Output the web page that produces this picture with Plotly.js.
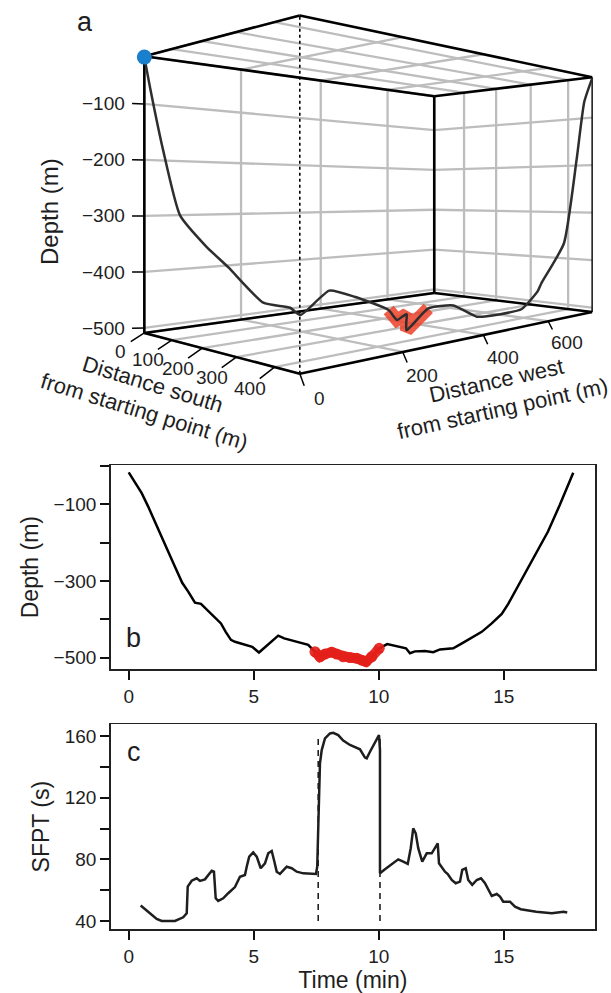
<!DOCTYPE html>
<html><head><meta charset="utf-8">
<script src="https://cdn.plot.ly/plotly-3.0.1.min.js"></script>
<style>
html,body{margin:0;padding:0;overflow:hidden;background:#fff;width:611px;height:993px}
#chart{position:absolute;left:0;top:0;width:611px;height:993px}
</style></head>
<body><div id="chart"></div>
<script>
// ---------- Panel b: depth vs time ----------
const depthTime = [0,0.52,0.78,1.12,1.52,1.85,2.14,2.38,2.65,2.89,3.25,3.69,3.88,4.09,4.25,4.58,4.94,5.21,5.58,5.98,6.22,6.65,7.05,7.18,7.45,7.65,7.85,8.12,8.32,8.58,8.85,9.12,9.32,9.49,9.72,10.02,10.34,10.72,11.09,11.25,11.45,11.85,12.18,12.45,12.98,13.38,13.78,14.12,14.52,14.92,15.18,15.45,16.14,16.77,17.24,17.78];
const depthValues = [-16.5,-71,-106,-154,-215,-263,-305,-328,-357,-360,-383,-411,-433,-454,-459,-465,-472,-487,-466,-443,-450,-457,-465,-467,-485,-498,-491,-486,-491,-498,-500,-502,-507,-511,-498,-476,-465,-470,-476,-489,-484,-483,-486,-479,-476,-461,-447,-433,-411,-386,-360,-328,-245,-171,-102,-17.5];
const patchWindow = [7.45, 10.02];   // highlighted bottom phase (min)

// ---------- Panel c: SFPT vs time ----------
const sfptTime = [0.48,0.78,1.12,1.32,1.85,2.18,2.32,2.36,2.52,2.72,2.85,3.05,3.18,3.32,3.41,3.48,3.58,3.78,3.98,4.25,4.45,4.65,4.72,4.82,4.98,5.12,5.28,5.45,5.58,5.72,5.81,5.92,6.05,6.32,6.52,6.72,6.98,7.25,7.49,7.54,7.61,7.65,7.72,7.85,8.05,8.18,8.38,8.58,8.85,9.05,9.25,9.45,9.52,9.65,9.85,10.01,10.05,10.05,10.25,10.52,10.78,10.98,11.16,11.28,11.38,11.48,11.58,11.74,11.92,12.12,12.28,12.36,12.41,12.54,12.65,12.76,12.92,13.08,13.25,13.34,13.48,13.58,13.74,13.92,14.09,14.25,14.41,14.52,14.72,14.85,14.98,15.25,15.45,15.68,16.3,16.92,17.39,17.54];
const sfptValues = [50,46,41.3,40,40,42.4,45,62.3,66.1,67.7,66,67,69.8,72.6,72,54.7,53,54.7,58,62,68.7,69.8,75.2,81.7,84.5,81.7,74.2,77.4,83.9,85.4,79.6,72,70.5,75.2,74.2,72,70.9,70.5,70.5,75.2,116.3,142.3,150.9,158.5,161.7,162.1,160.6,157,154.2,153,151.4,146,145.5,149.8,156.3,160.6,151,70.9,73.5,77,80,78.5,77,87.2,100.1,96.9,87.2,78.5,83.9,83.9,88.6,90.4,77.4,74.2,72,70.5,66.6,64.5,65.5,73.1,74.2,66.6,63.4,66.6,67.7,64.5,60.1,56.2,57.5,55.8,52.5,52.5,49.3,47.6,46,45,46,45.5];
const phaseBounds = [7.58, 10.05];
const phaseBoundSpan = [40, 160];

// ---------- Panel a: 3-D track ----------
const track3dTime  = [0,0.52,1.3,2.1,2.89,3.5,4.25,4.94,5.21,5.98,6.65,7.45,7.65,8.12,8.85,9.49,10.02,10.72,11.25,12.0,12.9,13.8,14.12,15.18,16.6,17.45,17.78];
const track3dSouth = [0,0,0,0,5,60,133,148,154,184,205,240,280,297,308,320,324,362,402,440,455,460,460,460,460,460,460];
const track3dWest  = [0,11,36,69,120,135,162,211,230,275,320,377,361,370,358,347,401,430,451,470,520,565,577,655,702,731,762];
const track3dDepth = [-16.5,-71,-182,-300,-360,-398,-459,-472,-487,-443,-457,-485,-498,-486,-500,-511,-476,-470,-489,-483,-477,-447,-433,-360,-190,-70,-17.5];

const southTicks = [0,100,200,300,400];
const westTicks  = [0,200,400,600];
const depthTicks3d = [-500,-400,-300,-200,-100];
const southRange = [0,460], westRange = [0,762], depthRange3d = [-509,-15];

const FONT = 'Liberation Sans, Arial, Helvetica, sans-serif';
const INK = '#1e1e1e';
const minus = v => (v < 0 ? '\u2212' + Math.abs(v) : String(v));

// ---------- perspective camera for panel a (screen px) ----------
const CAM = {hx:0.1483, hy:0.2632, hz:0.166, th:45.16*Math.PI/180, f:764.9, cx:386.6, cy:194.6};
function proj(s, w, d){
  const X = -CAM.hx + 2*CAM.hx*(s - southRange[0])/(southRange[1]-southRange[0]);
  const Y = -CAM.hy + 2*CAM.hy*(w - westRange[0])/(westRange[1]-westRange[0]);
  const Z = -CAM.hz + 2*CAM.hz*(d - depthRange3d[0])/(depthRange3d[1]-depthRange3d[0]);
  const c = Math.cos(CAM.th), sn = Math.sin(CAM.th);
  const dist = 1 - (X*c - Y*sn);
  const lat = X*sn + Y*c;
  return [CAM.cx + CAM.f*lat/dist, CAM.cy - CAM.f*Z/dist];
}
function segs(list){
  const x=[],y=[];
  list.forEach(([a,b])=>{ const p=proj(...a), q=proj(...b); x.push(p[0],q[0],null); y.push(p[1],q[1],null); });
  return {x,y};
}
const S0=southRange[0],S1=southRange[1],W0=westRange[0],W1=westRange[1],Z0=depthRange3d[0],Z1=depthRange3d[1];

const traces = [];
const on3 = {xaxis:'x3', yaxis:'y3', hoverinfo:'skip', showlegend:false, type:'scatter', mode:'lines'};

// grid on the back walls, floor and top
(function(){
  const L=[];
  westTicks.forEach(w=>{ L.push([[S0,w,Z0],[S0,w,Z1]]); });
  depthTicks3d.forEach(d=>{ L.push([[S0,W0,d],[S0,W1,d]]); L.push([[S0,W1,d],[S1,W1,d]]); });
  southTicks.forEach(s=>{ L.push([[s,W1,Z0],[s,W1,Z1]]); });
  [Z0,Z1].forEach(z=>{
    southTicks.forEach(s=>{ L.push([[s,W0,z],[s,W1,z]]); });
    westTicks.forEach(w=>{ L.push([[S0,w,z],[S1,w,z]]); });
  });
  traces.push(Object.assign({}, on3, segs(L), {line:{color:'#bdbdbd',width:2.3}}));
})();
// box edges
(function(){
  const L=[];
  [Z0,Z1].forEach(z=>{ L.push([[S0,W0,z],[S1,W0,z]],[[S1,W0,z],[S1,W1,z]],[[S1,W1,z],[S0,W1,z]],[[S0,W1,z],[S0,W0,z]]); });
  L.push([[S0,W0,Z0],[S0,W0,Z1]],[[S0,W1,Z0],[S0,W1,Z1]]);
  traces.push(Object.assign({}, on3, segs(L), {line:{color:'#000',width:2.6}}));
  traces.push(Object.assign({}, on3, segs([[[S1,W1,Z0],[S1,W1,Z1]]]), {line:{color:'#000',width:1.4}}));
  traces.push(Object.assign({}, on3, segs([[[S1,W0,Z0],[S1,W0,Z1]]]), {line:{color:'#000',width:1.6,dash:'dot'}}));
})();
// tick marks
const southTickEnd = s => [s, W0-25, Z0-12];
const westTickEnd  = w => [S1+10, w, Z0-15];
const depthTickEnd = d => [S0-12, W0-17, d];
(function(){
  const L=[];
  southTicks.forEach(s=>L.push([[s,W0,Z0], southTickEnd(s)]));
  westTicks.forEach(w=>L.push([[S1,w,Z0], westTickEnd(w)]));
  depthTicks3d.forEach(d=>L.push([[S0,W0,d], depthTickEnd(d)]));
  traces.push(Object.assign({}, on3, segs(L), {line:{color:'#000',width:1.5}}));
})();
// highlighted patch (under the track)
(function(){
  const x=[],y=[];
  track3dTime.forEach((t,i)=>{ if(t>=patchWindow[0]-1e-9 && t<=patchWindow[1]+1e-9){ const p=proj(track3dSouth[i],track3dWest[i],track3dDepth[i]); x.push(p[0]); y.push(p[1]); } });
  traces.push(Object.assign({}, on3, {x,y, line:{color:'rgba(236,64,40,0.85)',width:13}}));
})();
// track
(function(){
  const x=[],y=[];
  track3dTime.forEach((t,i)=>{ const p=proj(track3dSouth[i],track3dWest[i],track3dDepth[i]); x.push(p[0]); y.push(p[1]); });
  traces.push(Object.assign({}, on3, {x,y, line:{color:'#2e2e2e',width:2.5,shape:'spline',smoothing:0.5}}));
  traces.push(Object.assign({}, on3, {mode:'markers', x:[x[0]], y:[y[0]], marker:{color:'#1a7fcc',size:15}}));
})();

// ---- Panel b
traces.push({type:'scatter',mode:'lines',x:depthTime,y:depthValues,xaxis:'x',yaxis:'y',
  line:{color:'#000',width:2.5},hoverinfo:'skip',showlegend:false});
(function(){
  const px=[],py=[];
  depthTime.forEach((t,i)=>{ if(t>=patchWindow[0]-1e-9 && t<=patchWindow[1]+1e-9){px.push(t);py.push(depthValues[i]);} });
  traces.push({type:'scatter',mode:'lines+markers',x:px,y:py,xaxis:'x',yaxis:'y',
    line:{color:'rgba(228,32,26,0.92)',width:10},marker:{color:'rgba(228,32,26,0.92)',size:11},
    hoverinfo:'skip',showlegend:false});
})();

// ---- Panel c
phaseBounds.forEach(b=>{
  traces.push({type:'scatter',mode:'lines',x:[b,b],y:phaseBoundSpan,xaxis:'x2',yaxis:'y2',
    line:{color:INK,width:1.6,dash:'6px,5px'},hoverinfo:'skip',showlegend:false});
});
traces.push({type:'scatter',mode:'lines',x:sfptTime,y:sfptValues,xaxis:'x2',yaxis:'y2',
  line:{color:INK,width:2.5},hoverinfo:'skip',showlegend:false});

const W=611,H=993;
const px2x = p => p/W, py2y = p => 1-p/H;

const axis2d = (extra) => Object.assign({
  showline:true, mirror:true, linecolor:'#222', linewidth:1.5, ticks:'outside', ticklen:9, tickwidth:2,
  tickcolor:'#111', showgrid:false, zeroline:false, tickfont:{family:FONT,size:19,color:INK}, fixedrange:true
}, extra);

const annotations = [];
const lab = (text,x,y,size,angle) => ({text, x:px2x(x), y:py2y(y), xref:'paper', yref:'paper', showarrow:false,
  xanchor:'center', yanchor:'middle', textangle:angle||0, font:{family:FONT,size:size,color:INK}});
annotations.push(lab('a',85,22,27), lab('b',133,638,27), lab('c',134,752,27));
annotations.push(lab('Depth (m)',50,212,24,-90));
annotations.push(lab('Distance south<br>from starting point (m)',148,398,22,17));
annotations.push(lab('Distance west<br>from starting point (m)',499,395,22,-12.5));
southTicks.forEach(s=>{ const p=proj(...southTickEnd(s)); annotations.push({text:String(s), x:p[0], y:p[1], xref:'x3', yref:'y3', showarrow:false,
  xanchor:'center', yanchor:'middle', xshift:-10, yshift:-10, font:{family:FONT,size:19,color:INK}}); });
westTicks.forEach(w=>{ const p=proj(...westTickEnd(w)); annotations.push({text:String(w), x:p[0], y:p[1], xref:'x3', yref:'y3', showarrow:false,
  xanchor:'center', yanchor:'middle', xshift:15, yshift:-13, font:{family:FONT,size:19,color:INK}}); });
depthTicks3d.forEach(d=>{ const p=proj(...depthTickEnd(d)); annotations.push({text:minus(d), x:p[0], y:p[1], xref:'x3', yref:'y3', showarrow:false,
  xanchor:'right', yanchor:'middle', xshift:-5, font:{family:FONT,size:19,color:INK}}); });

const layout = {
  width:W, height:H, margin:{l:0,r:0,t:0,b:0}, paper_bgcolor:'#fff', plot_bgcolor:'rgba(0,0,0,0)',
  showlegend:false, hovermode:false, dragmode:false,
  xaxis3:{domain:[0,1], range:[0,W], visible:false, fixedrange:true, anchor:'y3'},
  yaxis3:{domain:[1-460/H,1], range:[460,0], visible:false, fixedrange:true, anchor:'x3'},
  xaxis: axis2d({domain:[110.7/W,595/W], range:[-0.72,18.65], anchor:'y', tickvals:[0,5,10,15], ticktext:['0','5','10','15']}),
  yaxis: axis2d({domain:[py2y(669.3), py2y(465)], range:[-530.8,2.6], anchor:'x',
    tickvals:[0,-100,-200,-300,-400,-500], ticktext:['','\u2212100','','\u2212300','','\u2212500'],
    title:{text:'Depth (m)', font:{family:FONT,size:23,color:INK}, standoff:8}}),
  xaxis2: axis2d({domain:[110.7/W,595/W], range:[-0.72,18.65], anchor:'y2', tickvals:[0,5,10,15], ticktext:['0','5','10','15'],
    title:{text:'Time (min)', font:{family:FONT,size:23,color:INK}, standoff:4}}),
  yaxis2: axis2d({domain:[py2y(929.3), py2y(724)], range:[34.6,167.8], anchor:'x2',
    tickvals:[40,60,80,100,120,140,160], ticktext:['40','','80','','120','','160'],
    title:{text:'SFPT (s)', font:{family:FONT,size:23,color:INK}, standoff:8}}),
  annotations
};

Plotly.newPlot('chart', traces, layout, {staticPlot:true, displayModeBar:false});
</script></body></html>
